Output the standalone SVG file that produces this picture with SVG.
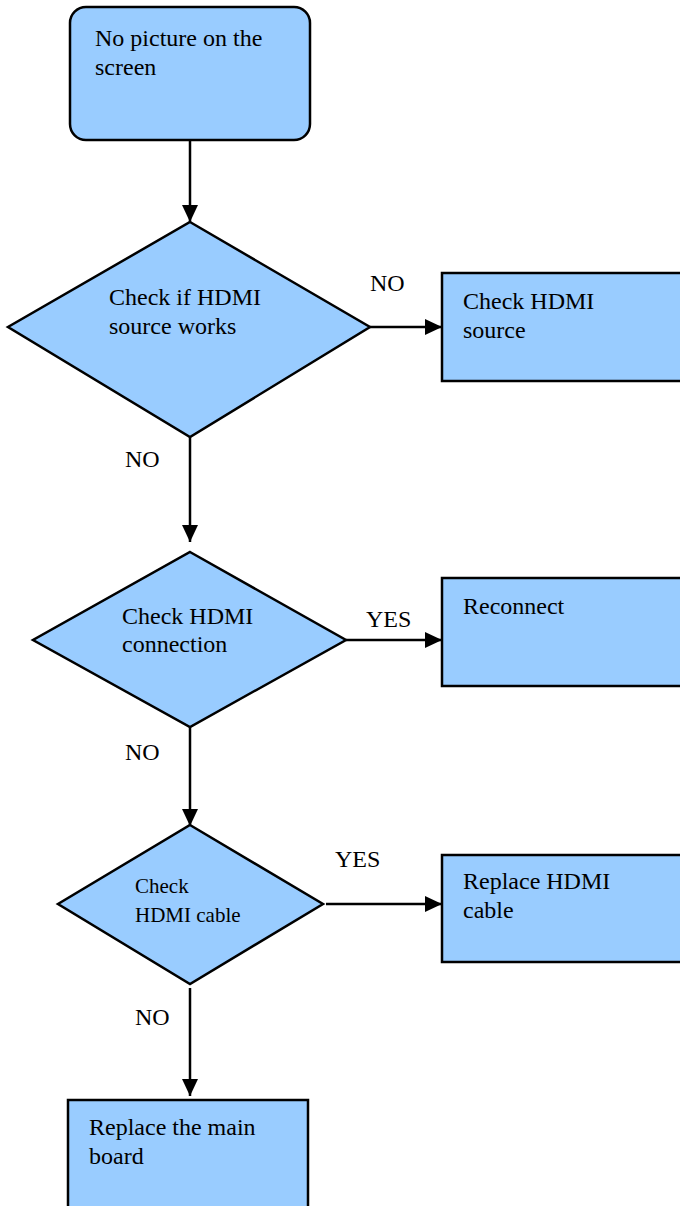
<svg xmlns="http://www.w3.org/2000/svg" width="680" height="1206" viewBox="0 0 680 1206">
<style>
.n{fill:#99ccff;stroke:#000;stroke-width:2.5}
.t{font-family:'Liberation Serif','Times New Roman',serif;font-size:24px;fill:#000}
.s{font-size:21px}
.c{fill:none;stroke:#000;stroke-width:2.5}
</style>
<defs>
<marker id="ah" markerUnits="userSpaceOnUse" markerWidth="18" markerHeight="16" refX="17" refY="8" orient="auto">
<path d="M0,0 L17,8 L0,16 Z" fill="#000"/>
</marker>
</defs>
<rect width="680" height="1206" fill="#fff"/>
<g id="connectors">
<line class="c" x1="190" y1="140" x2="190" y2="222" marker-end="url(#ah)"/>
<line class="c" x1="370" y1="327" x2="442" y2="327" marker-end="url(#ah)"/>
<line class="c" x1="190" y1="437" x2="190" y2="542" marker-end="url(#ah)"/>
<line class="c" x1="346" y1="640" x2="442" y2="640" marker-end="url(#ah)"/>
<line class="c" x1="190" y1="727" x2="190" y2="826" marker-end="url(#ah)"/>
<line class="c" x1="326" y1="904" x2="442" y2="904" marker-end="url(#ah)"/>
<line class="c" x1="190" y1="988" x2="190" y2="1096" marker-end="url(#ah)"/>
<text class="t" x="370" y="291">NO</text>
<text class="t" x="125" y="467">NO</text>
<text class="t" x="366" y="627">YES</text>
<text class="t" x="125" y="760">NO</text>
<text class="t" x="335" y="867">YES</text>
<text class="t" x="135" y="1025">NO</text>
</g>
<g id="start">
<rect class="n" x="70" y="7" width="240" height="133" rx="16"/>
<text class="t" x="95" y="46">No picture on the</text>
<text class="t" x="95" y="75">screen</text>
</g>
<g id="d1">
<polygon class="n" points="190,222 370,327 190,437 8,327"/>
<text class="t" x="109" y="305">Check if HDMI</text>
<text class="t" x="109" y="334">source works</text>
</g>
<g id="b1">
<rect class="n" x="442" y="273" width="250" height="108"/>
<text class="t" x="463" y="309">Check HDMI</text>
<text class="t" x="463" y="338">source</text>
</g>
<g id="d2">
<polygon class="n" points="190,552 346,640 190,727 33,640"/>
<text class="t" x="122" y="624">Check HDMI</text>
<text class="t" x="122" y="652">connection</text>
</g>
<g id="b2">
<rect class="n" x="442" y="578" width="250" height="108"/>
<text class="t" x="463" y="614">Reconnect</text>
</g>
<g id="d3">
<polygon class="n" points="190,825 323,904 190,984 58,904"/>
<text class="t s" x="135" y="893">Check</text>
<text class="t s" x="135" y="922">HDMI cable</text>
</g>
<g id="b3">
<rect class="n" x="442" y="855" width="250" height="107"/>
<text class="t" x="463" y="889">Replace HDMI</text>
<text class="t" x="463" y="918">cable</text>
</g>
<g id="b4">
<rect class="n" x="68" y="1100" width="240" height="120"/>
<text class="t" x="89" y="1135">Replace the main</text>
<text class="t" x="89" y="1164">board</text>
</g>
</svg>
